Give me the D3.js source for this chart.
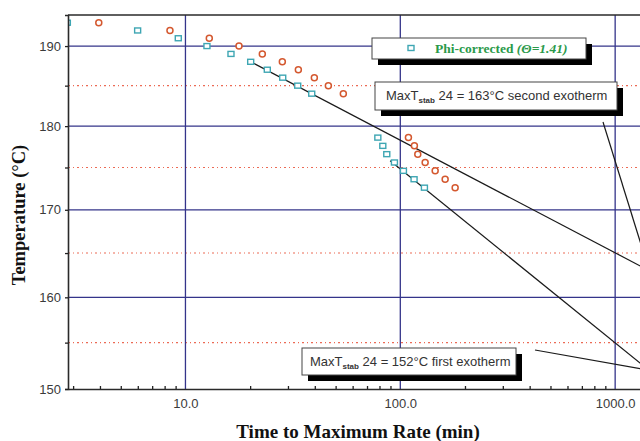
<!DOCTYPE html>
<html>
<head>
<meta charset="utf-8">
<script src="https://cdn.jsdelivr.net/npm/d3@7"></script>
<style>
  html, body { margin: 0; padding: 0; background: #fff; }
  svg { display: block; }
</style>
</head>
<body>
<svg id="chart" width="640" height="441"></svg>
<script>
// Adiabatic test points: temperature (°C)
const temperatures = [193, 192, 191, 190, 189, 188, 187, 186, 185, 184,
                      178.6, 177.6, 176.6, 175.6, 174.6, 173.6, 172.6];
// Time to maximum rate (min) after the thermal-inertia correction
const tmrCorrected = [2.82, 5.99, 9.26, 12.59, 16.29, 20.12, 24.04, 28.36, 33.3, 38.7,
                      78.6, 82.9, 86.5, 93.9, 103.4, 115.9, 129.5];
// Time to maximum rate (min) as measured
const tmrMeasured = [3.95, 8.47, 12.91, 17.75, 22.79, 28.24, 33.53, 39.8, 46.25, 54.3,
                     109.1, 116.3, 120.6, 130.5, 145.3, 161.7, 180.0];

// Extrapolations to a 24 h time to maximum rate: [time (min), temperature (°C)]
const secondExothermFit = [[20.12, 188], [1440, 163]];
const firstExothermFit = [[89.7, 175.8], [1440, 152]];

// Axis ticks
const xMajorTicks = [10, 100, 1000];
const xMinorTicks = [3, 4, 5, 6, 7, 8, 9, 20, 30, 40, 50, 60, 70, 80, 90,
                     200, 300, 400, 500, 600, 700, 800, 900, 2000, 3000];
const yMajorTicks = [150, 160, 170, 180, 190];
const yMinorTicks = [155, 165, 175, 185];

// Text
const xTitle = "Time to Maximum Rate (min)";
const yTitle = "Temperature (°C)";
const legendName = "Phi-corrected ";
const legendFactor = "(Θ=1.41)";
const notes = [
  { time: 1440, temp: 163, rest: " 24 = 163°C second exotherm" },
  { time: 1440, temp: 152, rest: " 24 = 152°C first exotherm" }
];

// ---------------------------------------------------------------------------
const svg = d3.select("#chart");
const plot = { left: 68, top: 15, right: 830, bottom: 389 };

const x = d3.scaleLog().domain([2.84, 10000]).range([plot.left, plot.right]);
// Temperature axis is linear in reciprocal absolute temperature
const recip = t => 1 / (t + 273.15);
const yU = d3.scaleLinear().domain([recip(194), recip(150)]).range([plot.top, plot.bottom]);
const y = t => yU(recip(t));

svg.append("defs").append("clipPath").attr("id", "plotClip")
  .append("rect")
  .attr("x", plot.left).attr("y", plot.top)
  .attr("width", plot.right - plot.left).attr("height", plot.bottom - plot.top);

svg.append("defs").append("marker")
  .attr("id", "arrow").attr("viewBox", "0 0 10 10")
  .attr("refX", 10).attr("refY", 5)
  .attr("markerWidth", 9).attr("markerHeight", 7)
  .attr("markerUnits", "userSpaceOnUse")
  .attr("orient", "auto")
  .append("path").attr("d", "M0,0L10,5L0,10Z").attr("fill", "#111");

const grid = svg.append("g").attr("clip-path", "url(#plotClip)");

// dotted minor temperature lines
grid.selectAll("line.minorY").data(yMinorTicks).join("line")
  .attr("class", "minorY")
  .attr("x1", plot.left).attr("x2", plot.right)
  .attr("y1", d => y(d)).attr("y2", d => y(d))
  .attr("stroke", "#ec6a55").attr("stroke-width", 1.1)
  .attr("stroke-dasharray", "2,3,1,3");

// major grid
grid.selectAll("line.majorY").data(yMajorTicks.filter(d => d !== 150)).join("line")
  .attr("class", "majorY")
  .attr("x1", plot.left).attr("x2", plot.right)
  .attr("y1", d => y(d)).attr("y2", d => y(d))
  .attr("stroke", "#34348a").attr("stroke-width", 1.3);

grid.selectAll("line.majorX").data(xMajorTicks).join("line")
  .attr("class", "majorX")
  .attr("y1", plot.top).attr("y2", plot.bottom)
  .attr("x1", d => x(d)).attr("x2", d => x(d))
  .attr("stroke", "#34348a").attr("stroke-width", 1.3);

// extrapolation lines
const fitLine = d3.line().x(d => x(d[0])).y(d => y(d[1]));
[secondExothermFit, firstExothermFit].forEach(fit => {
  svg.append("path").datum(fit)
    .attr("d", fitLine)
    .attr("fill", "none").attr("stroke", "#1a1a1a").attr("stroke-width", 1.2);
});

// data points
const points = temperatures.map((t, i) => ({ t, corr: tmrCorrected[i], meas: tmrMeasured[i] }));
const marks = svg.append("g").attr("clip-path", "url(#plotClip)");

marks.selectAll("circle.meas").data(points).join("circle")
  .attr("class", "meas")
  .attr("cx", d => x(d.meas)).attr("cy", d => y(d.t)).attr("r", 3)
  .attr("fill", "#fff").attr("stroke", "#d4582f").attr("stroke-width", 1.5);

marks.selectAll("rect.corr").data(points).join("rect")
  .attr("class", "corr")
  .attr("x", d => x(d.corr) - 3).attr("y", d => y(d.t) - 2.5)
  .attr("width", 6).attr("height", 5)
  .attr("fill", "#fff").attr("stroke", "#3ea6b3").attr("stroke-width", 1.4);

// axes
const axisFont = "'Liberation Sans', Arial, sans-serif";
const yAxis = svg.append("g").attr("transform", `translate(${plot.left},0)`)
  .call(d3.axisLeft(yU)
    .tickValues(yMajorTicks.map(recip))
    .tickFormat(u => Math.round(1 / u - 273.15))
    .tickSize(3).tickPadding(4));
svg.append("g").attr("transform", `translate(${plot.left},0)`)
  .call(d3.axisLeft(yU).tickValues(yMinorTicks.map(recip)).tickFormat("").tickSize(3))
  .call(g => g.select(".domain").remove());

const xAxis = svg.append("g").attr("transform", `translate(0,${plot.bottom})`)
  .call(d3.axisBottom(x).tickValues(xMajorTicks).tickFormat(d3.format(".1f"))
    .tickSize(0).tickPadding(10));
svg.append("g").attr("transform", `translate(0,${plot.bottom})`)
  .call(d3.axisBottom(x).tickValues(xMinorTicks).tickFormat("").tickSizeInner(-3).tickSizeOuter(0))
  .call(g => g.select(".domain").remove());

svg.selectAll(".tick line").attr("stroke", "#222").attr("stroke-width", 1.3);
[yAxis, xAxis].forEach(g => {
  g.select(".domain").attr("stroke", "#2a2a2a").attr("stroke-width", 1.6);
  g.selectAll("text").attr("font-family", axisFont).attr("font-size", 13).attr("fill", "#3a3a3a");
});

// top frame edge
svg.append("line")
  .attr("x1", plot.left).attr("x2", plot.right)
  .attr("y1", plot.top).attr("y2", plot.top)
  .attr("stroke", "#2a2a2a").attr("stroke-width", 1.4);

// axis titles
const titleFont = "'Liberation Serif', 'Times New Roman', serif";
svg.append("text")
  .attr("x", 358).attr("y", 438)
  .attr("text-anchor", "middle")
  .attr("font-family", titleFont).attr("font-weight", "bold").attr("font-size", 19)
  .attr("fill", "#111").text(xTitle);
svg.append("text")
  .attr("transform", "translate(25,215) rotate(-90)")
  .attr("text-anchor", "middle")
  .attr("font-family", titleFont).attr("font-weight", "bold").attr("font-size", 18.5)
  .attr("fill", "#111").text(yTitle);

// boxes with a drop shadow
function shadowBox(bx, by, bw, bh) {
  const g = svg.append("g");
  g.append("rect").attr("x", bx + 6).attr("y", by + 6).attr("width", bw).attr("height", bh).attr("fill", "#000");
  g.append("rect").attr("x", bx).attr("y", by).attr("width", bw).attr("height", bh)
    .attr("fill", "#fff").attr("stroke", "#444").attr("stroke-width", 1);
  return g;
}

// legend
const legend = shadowBox(372, 38, 214, 21);
legend.append("rect").attr("x", 408).attr("y", 45.5).attr("width", 6).attr("height", 5)
  .attr("fill", "#fff").attr("stroke", "#3ea6b3").attr("stroke-width", 1.4);
const lt = legend.append("text").attr("x", 435).attr("y", 53)
  .attr("font-family", titleFont).attr("font-weight", "bold").attr("font-size", 13.5)
  .attr("fill", "#2a9a4a");
lt.append("tspan").text(legendName);
lt.append("tspan").attr("font-style", "italic").text(legendFactor);

// callouts
const callouts = [
  { box: [375, 82, 242, 28], text: [386, 100], from: [603, 122] },
  { box: [302, 348, 214, 27], text: [310, 366], from: [535, 350] }
];
callouts.forEach((c, i) => {
  const n = notes[i];
  const g = shadowBox(...c.box);
  const t = g.append("text").attr("x", c.text[0]).attr("y", c.text[1])
    .attr("font-family", axisFont).attr("font-size", 13).attr("fill", "#333");
  t.append("tspan").text("MaxT");
  t.append("tspan").attr("font-size", 8).attr("font-weight", "bold").attr("dy", 3).text("stab");
  t.append("tspan").attr("dy", -3).text(n.rest);
  svg.append("line")
    .attr("x1", c.from[0]).attr("y1", c.from[1])
    .attr("x2", x(n.time)).attr("y2", y(n.temp))
    .attr("stroke", "#1a1a1a").attr("stroke-width", 1.2)
    .attr("marker-end", "url(#arrow)");
});
</script>
</body>
</html>
